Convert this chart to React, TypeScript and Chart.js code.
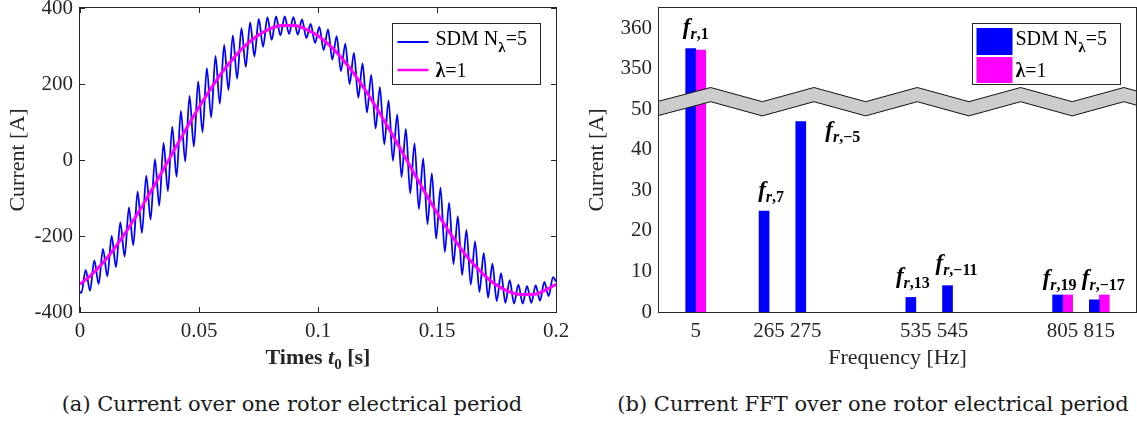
import React, { useEffect, useRef } from 'react';
import { Chart, registerables } from 'chart.js';

Chart.register(...registerables);

const SERIF = '"Liberation Serif", "Times New Roman", serif';
const CAPTION_FONT = '"DejaVu Serif", serif';
const BLUE = '#0000FF';
const MAGENTA = '#FF00FF';
const AXIS = '#262626';

// ---------- (a) current over one rotor electrical period ----------
const timeTicks = [0, 0.05, 0.1, 0.15, 0.2];
const currentTicks = [-400, -200, 0, 200, 400];
const sdmStart = -346; // SDM current at t = 0
const sdmEnd = -320; // SDM current at t = 0.2 s
const rippleStart = 0.00057; // time of the first ripple extremum [s]
const rippleHalfPeriod = 0.001818; // spacing of ripple extrema [s]
// successive troughs / peaks of the SDM N_lambda=5 current [A]
const sdmExtrema = [
  -350, -289, -344, -264, -326, -234, -306, -200, -282, -164,
  -254, -125, -224, -83, -192, -41, -157, 2, -120, 45,
  -82, 88, -44, 129, -4, 169, 35, 207, 73, 242,
  112, 274, 148, 303, 184, 328, 214, 347, 245, 362,
  273, 371, 298, 376, 316, 378, 328, 378, 332, 376,
  330, 370, 321, 358, 308, 350, 289, 344, 264, 326,
  234, 306, 200, 282, 164, 254, 125, 224, 83, 192,
  41, 157, -2, 120, -45, 82, -88, 44, -129, 4,
  -169, -35, -207, -73, -242, -112, -274, -148, -303, -184,
  -328, -214, -347, -245, -362, -273, -371, -298, -376, -316,
  -378, -328, -378, -332, -376, -330, -370, -321, -358, -308,
];
const lambdaStep = 0.005; // sampling of the lambda=1 current [s]
const lambdaCurrent = [
  -327, -301, -268, -228, -183, -133, -80, -25, 31, 86,
  139, 188, 233, 272, 304, 329, 346, 354, 354, 344,
  327, 301, 268, 228, 183, 133, 80, 25, -31, -86,
  -139, -188, -233, -272, -304, -329, -346, -354, -354, -344,
  -327,
];

// ---------- (b) current FFT ----------
const freqLabels = ['', '5', '', '265', '275', '', '', '535', '545', '', '', '805', '815', ''];
const sdmFft = [null, 355, null, 24.9, 47.0, null, null, 3.6, 6.5, null, null, 4.2, 3.0, null];
const lambdaFft = [null, 354.6, null, null, null, null, null, null, null, null, null, 4.2, 4.2, null];
const fftTicks = [0, 10, 20, 30, 40, 50, 350, 360];
const breakGap = 290; // axis break: values above 100 A are drawn 290 A lower
const fftAnnotations = [
  { slot: '5', sub: ',1', value: 358.5, dx: 0 },
  { slot: '265', sub: ',7', value: 28.4, dx: 2 },
  { slot: '275', sub: ',\u22125', value: 43.2, dx: 37 },
  { slot: '535', sub: ',13', value: 7.2, dx: -3 },
  { slot: '545', sub: ',\u221211', value: 10.4, dx: 4 },
  { slot: '805', sub: ',19', value: 6.7, dx: -3 },
  { slot: '815', sub: ',\u221217', value: 6.7, dx: 4 },
];

const toAxis = (v: number | null) => (v == null ? null : v > 100 ? v - breakGap : v);

type Part = { text: string; font: string; dy?: number };
function drawRich(ctx: CanvasRenderingContext2D, x: number, y: number, parts: Part[], align: 'left' | 'center' = 'left') {
  ctx.save();
  ctx.textAlign = 'left';
  ctx.textBaseline = 'alphabetic';
  let w = 0;
  for (const p of parts) {
    ctx.font = p.font;
    w += ctx.measureText(p.text).width;
  }
  let cx = align === 'center' ? x - w / 2 : x;
  for (const p of parts) {
    ctx.font = p.font;
    ctx.fillText(p.text, cx, y + (p.dy || 0));
    cx += ctx.measureText(p.text).width;
  }
  ctx.restore();
}

function drawBox(chart: any) {
  const { ctx, chartArea: ca } = chart;
  ctx.save();
  ctx.strokeStyle = AXIS;
  ctx.lineWidth = 1;
  ctx.strokeRect(ca.left - 0.5, ca.top - 0.5, ca.right - ca.left + 1, ca.bottom - ca.top + 1);
  ctx.restore();
}

function drawLegend(chart: any, kind: 'line' | 'bar') {
  const { ctx, chartArea: ca } = chart;
  const bx = Math.round(ca.right) - 164 + 0.5;
  const by = 23.5;
  ctx.save();
  ctx.fillStyle = '#ffffff';
  ctx.fillRect(bx, by, 148, 61);
  ctx.strokeStyle = AXIS;
  ctx.lineWidth = 1;
  ctx.strokeRect(bx, by, 148, 61);
  if (kind === 'line') {
    ctx.lineWidth = 2;
    ctx.strokeStyle = BLUE;
    ctx.beginPath();
    ctx.moveTo(bx + 5, 42);
    ctx.lineTo(bx + 36, 42);
    ctx.stroke();
    ctx.lineWidth = 2.5;
    ctx.strokeStyle = MAGENTA;
    ctx.beginPath();
    ctx.moveTo(bx + 5, 70);
    ctx.lineTo(bx + 36, 70);
    ctx.stroke();
  } else {
    ctx.fillStyle = BLUE;
    ctx.fillRect(bx + 4, 28, 36, 27);
    ctx.fillStyle = MAGENTA;
    ctx.fillRect(bx + 4, 57, 36, 26);
  }
  ctx.fillStyle = '#000000';
  drawRich(ctx, bx + 43, 45, [
    { text: 'SDM N', font: `20px ${SERIF}` },
    { text: '\u03bb', font: `bold 15px ${SERIF}`, dy: 7 },
    { text: '=5', font: `20px ${SERIF}` },
  ]);
  drawRich(ctx, bx + 43, 77, [
    { text: '\u03bb', font: `bold 20px ${SERIF}` },
    { text: '=1', font: `20px ${SERIF}` },
  ]);
  ctx.restore();
}

const leftDeco = {
  id: 'leftDeco',
  afterDraw(chart: any) {
    const { ctx, chartArea: ca, scales } = chart;
    drawBox(chart);
    ctx.save();
    ctx.strokeStyle = AXIS;
    ctx.lineWidth = 1;
    ctx.beginPath();
    for (const t of timeTicks) {
      const x = Math.round(scales.x.getPixelForValue(t)) + 0.5;
      ctx.moveTo(x, ca.bottom);
      ctx.lineTo(x, ca.bottom - 5);
      ctx.moveTo(x, ca.top);
      ctx.lineTo(x, ca.top + 5);
    }
    for (const v of currentTicks) {
      const y = Math.round(scales.y.getPixelForValue(v)) + 0.5;
      ctx.moveTo(ca.left, y);
      ctx.lineTo(ca.left + 5, y);
      ctx.moveTo(ca.right, y);
      ctx.lineTo(ca.right - 5, y);
    }
    ctx.stroke();
    ctx.fillStyle = AXIS;
    drawRich(ctx, (ca.left + ca.right) / 2, 364, [
      { text: 'Times ', font: `bold 22px ${SERIF}` },
      { text: 't', font: `italic bold 22px ${SERIF}` },
      { text: '0', font: `bold 15px ${SERIF}`, dy: 5 },
      { text: ' [s]', font: `bold 22px ${SERIF}` },
    ], 'center');
    ctx.restore();
    drawLegend(chart, 'line');
  },
};

const rightDeco = {
  id: 'rightDeco',
  afterDatasetsDraw(chart: any) {
    const { ctx, chartArea: ca, scales } = chart;
    // axis-break band
    const period = 103.3;
    const amp = 14.2;
    const thick = 14.2;
    const base = ca.top + 93.7;
    const x0 = ca.left - 1;
    const x1 = ca.right;
    const xs: number[] = [x0];
    for (let k = 1; ca.left + (k * period) / 2 < x1; k++) xs.push(ca.left + (k * period) / 2);
    xs.push(x1);
    const yTop = (x: number) => {
      const ph = (((x - ca.left) % period) + period) % period;
      const f = ph <= period / 2 ? ph / (period / 2) : (period - ph) / (period / 2);
      return base - amp * f;
    };
    ctx.save();
    ctx.beginPath();
    xs.forEach((x, i) => (i === 0 ? ctx.moveTo(x, yTop(x)) : ctx.lineTo(x, yTop(x))));
    for (let i = xs.length - 1; i >= 0; i--) ctx.lineTo(xs[i], yTop(xs[i]) + thick);
    ctx.closePath();
    ctx.fillStyle = '#CCCCCC';
    ctx.fill();
    ctx.strokeStyle = '#111111';
    ctx.lineWidth = 1;
    ctx.beginPath();
    xs.forEach((x, i) => (i === 0 ? ctx.moveTo(x, yTop(x)) : ctx.lineTo(x, yTop(x))));
    ctx.stroke();
    ctx.beginPath();
    xs.forEach((x, i) => (i === 0 ? ctx.moveTo(x, yTop(x) + thick) : ctx.lineTo(x, yTop(x) + thick)));
    ctx.stroke();
    // harmonic labels
    ctx.fillStyle = '#000000';
    for (const a of fftAnnotations) {
      const x = scales.x.getPixelForValue(freqLabels.indexOf(a.slot)) + a.dx;
      const y = scales.y.getPixelForValue(toAxis(a.value));
      drawRich(ctx, x, y, [
        { text: 'f', font: `italic bold 23px ${SERIF}` },
        { text: 'r', font: `italic bold 16px ${SERIF}`, dy: 5 },
        { text: a.sub, font: `bold 16px ${SERIF}`, dy: 5 },
      ], 'center');
    }
    ctx.restore();
  },
  afterDraw(chart: any) {
    const { ctx, chartArea: ca } = chart;
    drawBox(chart);
    ctx.save();
    ctx.fillStyle = AXIS;
    ctx.font = `22px ${SERIF}`;
    ctx.textAlign = 'center';
    ctx.textBaseline = 'alphabetic';
    ctx.fillText('Frequency [Hz]', (ca.left + ca.right) / 2, 364);
    ctx.restore();
    drawLegend(chart, 'bar');
  },
};

const tickFont = { family: SERIF, size: 21 };
const titleFont = { family: SERIF, size: 22 };

export default function App() {
  const leftRef = useRef<HTMLCanvasElement>(null);
  const rightRef = useRef<HTMLCanvasElement>(null);

  useEffect(() => {
    const sdmPoints = [
      { x: 0, y: sdmStart },
      ...sdmExtrema.map((y, k) => ({ x: rippleStart + k * rippleHalfPeriod, y })),
      { x: 0.2, y: sdmEnd },
    ];
    const lambdaPoints = lambdaCurrent.map((y, i) => ({ x: i * lambdaStep, y }));

    const left = new Chart(leftRef.current as HTMLCanvasElement, {
      type: 'line',
      data: {
        datasets: [
          { label: 'SDM N\u03bb=5', data: sdmPoints, borderColor: BLUE, borderWidth: 1.8, pointRadius: 0, cubicInterpolationMode: 'monotone', order: 1 },
          { label: '\u03bb=1', data: lambdaPoints, borderColor: MAGENTA, borderWidth: 3, pointRadius: 0, cubicInterpolationMode: 'monotone', order: 0 },
        ],
      } as any,
      options: {
        animation: false,
        responsive: false,
        devicePixelRatio: 1,
        layout: { padding: { top: 8, right: 14, left: 0, bottom: 0 } },
        plugins: { legend: { display: false }, tooltip: { enabled: false } },
        scales: {
          x: {
            type: 'linear',
            min: 0,
            max: 0.2,
            afterBuildTicks: (s: any) => { s.ticks = timeTicks.map((v) => ({ value: v })); },
            afterFit: (s: any) => { s.height = 68; s.paddingLeft = 0; s.paddingRight = 0; },
            grid: { display: false, drawTicks: false },
            border: { display: false },
            ticks: { font: tickFont, color: AXIS, padding: 7, maxRotation: 0, autoSkip: false, callback: (v: any) => String(+Number(v).toFixed(2)) },
          },
          y: {
            type: 'linear',
            min: -400,
            max: 400,
            afterBuildTicks: (s: any) => { s.ticks = currentTicks.map((v) => ({ value: v })); },
            afterFit: (s: any) => { s.width = 80; s.paddingTop = 0; s.paddingBottom = 0; },
            grid: { display: false, drawTicks: false },
            border: { display: false },
            ticks: { font: tickFont, color: AXIS, padding: 7, callback: (v: any) => String(v) },
            title: { display: true, text: 'Current [A]', font: titleFont, color: AXIS, padding: { top: 5, bottom: 0 } },
          },
        },
      } as any,
      plugins: [leftDeco],
    });

    const right = new Chart(rightRef.current as HTMLCanvasElement, {
      type: 'bar',
      data: {
        labels: freqLabels,
        datasets: [
          { label: 'SDM N\u03bb=5', data: sdmFft.map(toAxis), backgroundColor: BLUE, borderWidth: 0, barThickness: 10 },
          { label: '\u03bb=1', data: lambdaFft.map(toAxis), backgroundColor: MAGENTA, borderWidth: 0, barThickness: 10 },
        ],
      } as any,
      options: {
        animation: false,
        responsive: false,
        devicePixelRatio: 1,
        layout: { padding: { top: 8, right: 1, left: 0, bottom: 0 } },
        plugins: { legend: { display: false }, tooltip: { enabled: false } },
        scales: {
          x: {
            type: 'category',
            offset: false,
            afterFit: (s: any) => { s.height = 68; s.paddingLeft = 0; s.paddingRight = 0; },
            grid: { display: false, drawTicks: false },
            border: { display: false },
            ticks: { font: tickFont, color: AXIS, padding: 7, maxRotation: 0, autoSkip: false },
          },
          y: {
            type: 'linear',
            min: 0,
            max: 75,
            afterBuildTicks: (s: any) => { s.ticks = fftTicks.map((v) => ({ value: toAxis(v) })); },
            afterFit: (s: any) => { s.width = 89; s.paddingTop = 0; s.paddingBottom = 0; },
            grid: { display: false, drawTicks: false },
            border: { display: false },
            ticks: {
              font: tickFont,
              color: AXIS,
              padding: 7,
              callback: (v: any) => {
                const i = fftTicks.findIndex((t) => toAxis(t) === v);
                return i >= 0 ? String(fftTicks[i]) : '';
              },
            },
            title: { display: true, text: 'Current [A]', font: titleFont, color: AXIS, padding: { top: 14, bottom: 0 } },
          },
        },
      } as any,
      plugins: [rightDeco],
    });

    return () => {
      left.destroy();
      right.destroy();
    };
  }, []);

  const caption: React.CSSProperties = {
    position: 'absolute',
    top: 390,
    height: 28,
    lineHeight: '28px',
    textAlign: 'center',
    fontFamily: CAPTION_FONT,
    fontSize: 21,
    color: '#1a1a1a',
    whiteSpace: 'nowrap',
  };

  return (
    <div style={{ position: 'fixed', left: 0, top: 0, width: 1137, height: 423, background: '#ffffff', overflow: 'hidden' }}>
      <canvas ref={leftRef} width={570} height={380} style={{ position: 'absolute', left: 0, top: 0, width: 570, height: 380 }} />
      <canvas ref={rightRef} width={567} height={380} style={{ position: 'absolute', left: 570, top: 0, width: 567, height: 380 }} />
      <div style={{ ...caption, left: 0, width: 584 }}>(a) Current over one rotor electrical period</div>
      <div style={{ ...caption, left: 589, width: 568 }}>(b) Current FFT over one rotor electrical period</div>
    </div>
  );
}
